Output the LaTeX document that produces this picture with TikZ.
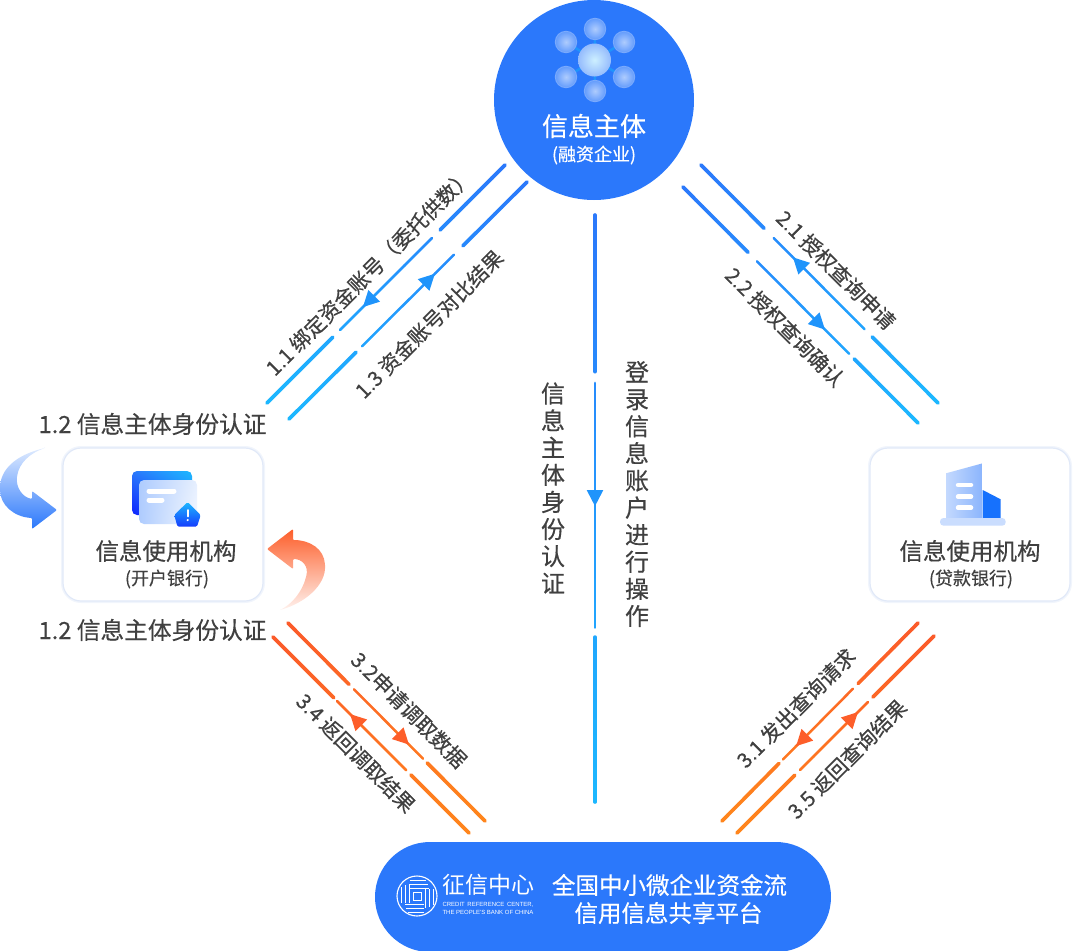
\documentclass[tikz,border=0pt]{standalone}
\usepackage{fontspec}
\setmainfont[RawFeature={embolden=0.4}]{Noto Sans CJK SC}
\newfontfamily\logofont{Noto Sans CJK SC}
\newfontfamily\logolatin{Liberation Sans}
\usetikzlibrary{calc,arrows.meta,shadings}
\definecolor{mainblue}{HTML}{2B78FB}
\definecolor{lineblue}{HTML}{2B78FB}
\definecolor{linecyan}{HTML}{1CB8FF}
\definecolor{tipblue}{HTML}{1F94FB}
\definecolor{lineorange}{HTML}{FB5A2A}
\definecolor{lineamber}{HTML}{FF861C}
\definecolor{tiporange}{HTML}{FD5E2A}
\definecolor{labelgrey}{HTML}{404040}
\definecolor{boxedge}{HTML}{E1E9F8}
\definecolor{boxglow}{HTML}{F1F5FC}
\tikzset{
    subject/.style={circle,fill=mainblue,minimum size=200pt,inner sep=0pt},
    bankbox/.style={rectangle,rounded corners=18pt,fill=white,draw=boxedge,line width=1.2pt,
        preaction={draw=boxglow,line width=4pt},minimum width=200pt,minimum height=153pt},
    platform/.style={rectangle,rounded corners=55pt,fill=mainblue,minimum width=456pt,minimum height=110pt},
    flowlabel/.style={text=labelgrey,font=\fontsize{20.7}{24}\selectfont,inner sep=0pt},
    sidelabel/.style={text=labelgrey,font=\fontsize{23.7}{27}\selectfont,inner sep=0pt},
    banktitle/.style={text=labelgrey,font=\fontsize{23.5}{27}\selectfont,inner sep=0pt},
    banknote/.style={text=labelgrey,font=\fontsize{18}{20}\selectfont,inner sep=0pt},
    whitetext/.style={text=white,font=\fontsize{23.5}{27}\selectfont,inner sep=0pt},
    columntext/.style={text=labelgrey,font=\fontsize{24}{27.1}\selectfont,align=center,inner sep=0pt},
    flowtip/.style={-{Triangle[length=16pt,width=16pt]},line width=2pt},
}
% one stretch of a line, colour running from the first end to the second
\newcommand{\flowpart}[7]{
    \foreach \i [evaluate=\i as \s using {#5+(#6-#5)*\i/10},
                 evaluate=\i as \e using {#5+(#6-#5)*(\i+1)/10},
                 evaluate=\i as \m using {100*(#5+(#6-#5)*(\i+.5)/10)}] in {0,...,9}
        \draw[line cap=round,line width=#7,color=#4!\m!#3] ($(#1)!\s!(#2)$) -- ($(#1)!\e!(#2)$);
}
\newcommand{\flowline}[8]{
    \flowpart{#1}{#2}{#3}{#4}{0}{#5}{3.6pt}
    \flowpart{#1}{#2}{#3}{#4}{#6}{#7}{2.5pt}
    \flowpart{#1}{#2}{#3}{#4}{#8}{1}{3.6pt}
}
\begin{document}
\begin{tikzpicture}[x=1pt,y=-1pt]
    \useasboundingbox (0,0) rectangle (1080,951);
    \node[subject] (owner) at (594,100) {};
    \node[bankbox] (openbank) at (163,524.5) {};
    \node[bankbox] (loanbank) at (970,524.5) {};
    \node[platform] (share) at (603,897) {};
    % dots in the circle
    \foreach \x/\y in {595/29,566/42,624/42,566/77,624/77,595/91}
        \draw[line width=2.5pt,color=tipblue] (594.5,60) -- (\x,\y);
    \foreach \x/\y in {595/29,566/42,624/42,566/77,624/77,595/91} {
        \fill[white!38!mainblue] (\x,\y) circle (11.2pt);
        \shade[inner color=white!62!mainblue,outer color=white!28!mainblue] (\x,\y) circle (10.2pt);
    }
    \shade[inner color=white!78!linecyan,outer color=white!50!mainblue] (594.5,60) circle (16.5pt);
    \node[text=white,font=\fontsize{26}{30}\selectfont,inner sep=0pt] (ownername) at (594,126) {信息主体};
    \node[text=white,font=\fontsize{18}{20}\selectfont,inner sep=0pt] (ownernote) at (594,155) {(融资企业)};
    % open bank
    \shade[rounded corners=5pt,lower left=blue!70!mainblue,upper right=linecyan,lower right=mainblue,upper left=mainblue]
        (132,471) rectangle (192,515);
    \shade[rounded corners=5pt,lower left=white!62!mainblue,upper right=white!88!mainblue,lower right=white!95!mainblue,upper left=white!62!mainblue]
        (139,480) rectangle (197,524);
    \draw[white,line width=5pt,line cap=round] (149,491) -- (174,491);
    \draw[white,line width=5pt,line cap=round] (149,500) -- (162,500);
    \shade[top color=linecyan,bottom color=blue!50!mainblue,rounded corners=1.5pt]
        (187.7,502) -- (200.7,515) -- (197,526.7) -- (177.5,526.7) -- (174.2,515) -- cycle;
    \draw[white,line width=1.8pt,line cap=round] (187.7,510) -- (187.7,516.5);
    \fill[white] (187.7,520) circle (1.2pt);
    \node[banktitle] (openname) at (166,551) {信息使用机构};
    \node[banknote] (opennote) at (167,579) {(开户银行)};
    % loan bank
    \shade[left color=white!72!mainblue,right color=white!45!mainblue]
        (946,473.3) -- (982.7,463.3) -- (982.7,518) -- (946,518) -- cycle;
    \draw[white,line width=4.5pt,line cap=round] (958,485) -- (971,485);
    \draw[white,line width=4.5pt,line cap=round] (958,496.7) -- (971,496.7);
    \draw[white,line width=4.5pt,line cap=round] (958,507.7) -- (971,507.7);
    \fill[blue!35!mainblue!80!cyan] (982.7,490) -- (1000.7,499.3) -- (1000.7,518.3) -- (982.7,518.3) -- cycle;
    \fill[white!75!mainblue,rounded corners=3.5pt] (940,518) rectangle (1005.7,525.7);
    \node[banktitle] (loanname) at (970,551) {信息使用机构};
    \node[banknote] (loannote) at (971,579) {(贷款银行)};
    % platform
    \begin{scope}[shift={(417,896)},white]
        \draw[line width=1.1pt] (0,0) circle (20pt);
        \draw[line width=1pt] (-4,-4) rectangle (4,4);
        \foreach \a in {0,90,180,270} {
            \begin{scope}[rotate=\a]
                \foreach \y/\x in {8/12,12/11,16/9}
                    \draw[line width=.9pt] (-7,-\y) -- (\x,-\y);
            \end{scope}
        }
    \end{scope}
    \node[text=white,font=\logofont\fontsize{23}{26}\selectfont,inner sep=0pt] (logoname) at (488,885) {征信中心};
    \node[text=white,font=\logolatin\fontsize{6}{8}\selectfont,inner sep=0pt,align=left] (logonote) at (488,908)
        {\makebox[91pt][s]{CREDIT REFERENCE CENTER,}\\\makebox[91pt][s]{THE PEOPLE'S BANK OF CHINA}};
    \node[whitetext] (shareone) at (669.5,885) {全国中小微企业资金流};
    \node[whitetext] (sharetwo) at (668.5,913) {信用信息共享平台};
    % line ends
    \coordinate (a1) at (505,165);
    \coordinate (a2) at (267,403);
    \coordinate (b1) at (527,182);
    \coordinate (b2) at (289,419);
    \coordinate (c1) at (701,165);
    \coordinate (c2) at (938,403);
    \coordinate (d1) at (683,187);
    \coordinate (d2) at (918,423);
    \coordinate (e1) at (288,623);
    \coordinate (e2) at (485,821);
    \coordinate (f1) at (273,637);
    \coordinate (f2) at (469,833);
    \coordinate (g1) at (918,623);
    \coordinate (g2) at (722,821);
    \coordinate (h1) at (934,636);
    \coordinate (h2) at (737,833);
    \coordinate (m1) at (595,215);
    \coordinate (m2) at (595,802);
    \flowline{a1}{a2}{lineblue}{linecyan}{.273}{.307}{.693}{.723}
    \flowline{b1}{b2}{lineblue}{linecyan}{.269}{.307}{.693}{.718}
    \flowline{c1}{c2}{lineblue}{linecyan}{.266}{.307}{.69}{.722}
    \flowline{d1}{d2}{lineblue}{linecyan}{.277}{.315}{.707}{.728}
    \flowline{m1}{m2}{lineblue}{linecyan}{.267}{.286}{.703}{.719}
    \flowline{e1}{e2}{lineorange}{lineamber}{.31}{.335}{.685}{.706}
    \flowline{f1}{f2}{lineorange}{lineamber}{.311}{.327}{.68}{.704}
    \flowline{g1}{g2}{lineorange}{lineamber}{.306}{.332}{.689}{.709}
    \flowline{h1}{h2}{lineorange}{lineamber}{.31}{.335}{.68}{.706}
    % arrow heads on the lines
    \draw[flowtip,tipblue] ($(a1)!.597!(a2)!16pt!(a1)$) -- ($(a1)!.597!(a2)$);
    \draw[flowtip,tipblue] ($(b2)!.613!(b1)!16pt!(b2)$) -- ($(b2)!.613!(b1)$);
    \draw[flowtip,tipblue] ($(c2)!.612!(c1)!16pt!(c2)$) -- ($(c2)!.612!(c1)$);
    \draw[flowtip,tipblue] ($(d1)!.604!(d2)!16pt!(d1)$) -- ($(d1)!.604!(d2)$);
    \draw[flowtip,tipblue] ($(m1)!.496!(m2)!16pt!(m1)$) -- ($(m1)!.496!(m2)$);
    \draw[flowtip,tiporange] ($(e1)!.614!(e2)!16pt!(e1)$) -- ($(e1)!.614!(e2)$);
    \draw[flowtip,tiporange] ($(f2)!.607!(f1)!16pt!(f2)$) -- ($(f2)!.607!(f1)$);
    \draw[flowtip,tiporange] ($(g1)!.622!(g2)!16pt!(g1)$) -- ($(g1)!.622!(g2)$);
    \draw[flowtip,tiporange] ($(h2)!.614!(h1)!16pt!(h2)$) -- ($(h2)!.614!(h1)$);
    % labels on the lines
    \node[flowlabel,rotate=45] (step11) at (369,272) {1.1 绑定资金账号（委托供数）};
    \node[flowlabel,rotate=45] (step13) at (429,324) {1.3 资金账号对比结果};
    \node[flowlabel,rotate=-45] (step21) at (836,270) {2.1 授权查询申请};
    \node[flowlabel,rotate=-45] (step22) at (785,327) {2.2 授权查询确认};
    \node[flowlabel,rotate=-45] (step32) at (409,710) {3.2申请调取数据};
    \node[flowlabel,rotate=-45] (step34) at (356,753) {3.4 返回调取结果};
    \node[flowlabel,rotate=45] (step31) at (796,708) {3.1 发出查询请求};
    \node[flowlabel,rotate=45] (step35) at (847,759) {3.5 返回查询结果};
    \node[sidelabel] (authup) at (152.5,424) {1.2 信息主体身份认证};
    \node[sidelabel] (authdown) at (152.5,630) {1.2 信息主体身份认证};
    \node[columntext] (authcol) at (553,488) {信\\息\\主\\体\\身\\份\\认\\证};
    \node[columntext] (logincol) at (637,494) {登\\录\\信\\息\\账\\户\\进\\行\\操\\作};
    % round arrows beside the open bank
    \shade[top color=white!85!mainblue,middle color=white!25!mainblue,bottom color=mainblue,rounded corners=1pt]
        (45,448) .. controls (15,455) and (0,470) .. (0,489)
        .. controls (0,505) and (14,517) .. (32,518) -- (32,529) -- (57,510) -- (32,491) -- (32,499)
        .. controls (22,497) and (16,487) .. (17,477) .. controls (19,463) and (30,453) .. (45,448) -- cycle;
    \shade[top color=tiporange,middle color=tiporange!92!white,bottom color=tiporange!8!white,rounded corners=1pt]
        (280,610) .. controls (305,603) and (326,585) .. (325,565)
        .. controls (324,549) and (310,540) .. (293,540) -- (293,529) -- (267,549) -- (293,569) -- (293,559)
        .. controls (302,559) and (309,566) .. (306,577) .. controls (302,592) and (292,604) .. (280,610) -- cycle;
\end{tikzpicture}
\end{document}
